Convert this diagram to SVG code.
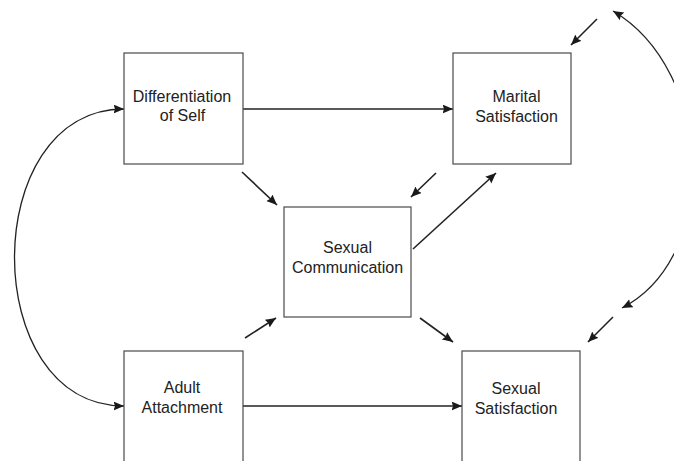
<svg xmlns="http://www.w3.org/2000/svg" width="674" height="461" viewBox="0 0 674 461">
  <style>
    .box { fill: #ffffff; stroke: #4a4a4a; stroke-width: 1.2; }
    .label { font-family: "Liberation Sans", Arial, sans-serif; font-size: 16px; fill: #222222; text-anchor: middle; }
    .edge { fill: none; stroke: #222222; stroke-width: 1.6; marker-end: url(#head); }
    .curve { fill: none; stroke: #222222; stroke-width: 1.3; marker-start: url(#head); marker-end: url(#head); }
  </style>
  <defs>
    <marker id="head" markerUnits="userSpaceOnUse" markerWidth="11" markerHeight="10" refX="10.5" refY="4.5" orient="auto-start-reverse">
      <path d="M0,0 L10.5,4.5 L0,9 L1.5,4.5 z" fill="#1a1a1a"/>
    </marker>
  </defs>
  <rect width="674" height="461" fill="#ffffff"/>

  <g id="connectors">
    <path class="edge" d="M243,109 L453,109"/>
    <path class="edge" d="M243,406 L462,406"/>
    <path class="edge" d="M242,172 L277,205"/>
    <path class="edge" d="M436,173 L411,197"/>
    <path class="edge" d="M413,249 L496,173"/>
    <path class="edge" d="M245,338 L276,318"/>
    <path class="edge" d="M420,318 L453,342"/>
    <path class="edge" d="M597,19 L571,45"/>
    <path class="edge" d="M613,317 L588,342"/>
    <path class="curve" d="M124,109 C-22,109 -22,406 124,406"/>
    <path class="curve" d="M613,11 C713,70 722,256 622,308"/>
  </g>

  <g id="differentiation-of-self">
    <rect class="box" x="124" y="53" width="119" height="111"/>
    <text class="label" x="182" y="102">Differentiation</text>
    <text class="label" x="182.5" y="121">of Self</text>
  </g>

  <g id="marital-satisfaction">
    <rect class="box" x="453" y="53" width="118" height="111"/>
    <text class="label" x="516.5" y="102">Marital</text>
    <text class="label" x="516.5" y="122">Satisfaction</text>
  </g>

  <g id="sexual-communication">
    <rect class="box" x="284" y="207" width="127" height="110"/>
    <text class="label" x="347.5" y="253">Sexual</text>
    <text class="label" x="347.5" y="273">Communication</text>
  </g>

  <g id="adult-attachment">
    <rect class="box" x="124" y="351" width="119" height="130"/>
    <text class="label" x="182" y="393">Adult</text>
    <text class="label" x="182" y="413">Attachment</text>
  </g>

  <g id="sexual-satisfaction">
    <rect class="box" x="462" y="351" width="118" height="130"/>
    <text class="label" x="516" y="394">Sexual</text>
    <text class="label" x="516" y="414">Satisfaction</text>
  </g>
</svg>
